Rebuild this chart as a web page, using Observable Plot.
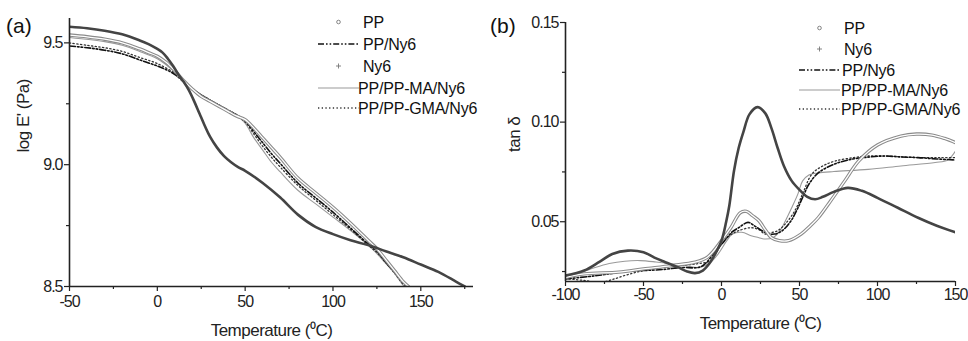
<!DOCTYPE html>
<html>
<head>
<meta charset="utf-8">
<script src="https://cdn.jsdelivr.net/npm/d3@7"></script>
<script src="https://cdn.jsdelivr.net/npm/@observablehq/plot@0.6"></script>
<style>
  body { margin: 0; background: #fff; }
  #wrap { position: relative; width: 968px; height: 341px; display: flex; font-family: "Liberation Sans", Arial, sans-serif; }
  #wrap svg [aria-label$="tick label"] text { letter-spacing: -1px; }
  #wrap svg g[aria-label="text"] text { letter-spacing: -0.5px; }
  #overlay { position: absolute; left: 0; top: 0; pointer-events: none; }
</style>
</head>
<body>
<div id="wrap"></div>
<script>
// ---------- Panel (a): log E' (Pa) vs Temperature ----------
const seriesNames = ["PP", "PP/Ny6", "Ny6", "PP/PP-MA/Ny6", "PP/PP-GMA/Ny6"];
const xTicksA = [-50, 0, 50, 100, 150];
const xMinorA = [-25, 25, 75, 125, 175];
const yTicksA = [8.5, 9.0, 9.5];
const yMinorA = [8.75, 9.25];

const ppA = [[-50,9.532],[-40,9.525],[-30,9.515],[-20,9.50],[-10,9.475],[-5,9.46],[0,9.445],[5,9.42],[10,9.385],[15,9.345],[20,9.31],[25,9.28],[30,9.26],[35,9.24],[40,9.22],[45,9.20],[50,9.185],[55,9.15],[60,9.11],[65,9.07],[70,9.03],[80,8.945],[90,8.885],[100,8.825],[110,8.76],[120,8.69],[125,8.655],[130,8.61],[135,8.565],[140,8.52],[143,8.5]];
const ppNy6A = [[-50,9.487],[-40,9.48],[-30,9.47],[-20,9.455],[-10,9.43],[0,9.405],[5,9.39],[10,9.37],[15,9.34],[20,9.31],[30,9.265],[40,9.225],[45,9.205],[50,9.18],[55,9.135],[60,9.09],[65,9.045],[70,9.005],[80,8.925],[90,8.865],[100,8.805],[110,8.74],[120,8.675],[125,8.645],[130,8.6],[135,8.56],[140,8.52],[143,8.5]];
const ny6A = [[-50,9.566],[-40,9.56],[-30,9.55],[-20,9.535],[-10,9.51],[-5,9.495],[0,9.475],[3,9.46],[6,9.435],[9,9.405],[12,9.37],[15,9.34],[18,9.305],[21,9.26],[24,9.21],[27,9.16],[30,9.115],[34,9.07],[38,9.035],[42,9.01],[46,8.99],[50,8.975],[60,8.925],[70,8.865],[80,8.795],[90,8.745],[100,8.715],[110,8.69],[120,8.67],[130,8.645],[140,8.62],[150,8.59],[160,8.56],[170,8.52],[175,8.5]];
const maA = [[-50,9.522],[-30,9.505],[-20,9.49],[-10,9.465],[0,9.435],[5,9.41],[10,9.38],[15,9.345],[20,9.31],[30,9.265],[40,9.225],[45,9.205],[50,9.17],[55,9.11],[60,9.06],[65,9.01],[70,8.97],[80,8.895],[90,8.84],[100,8.785],[110,8.73],[120,8.67],[125,8.635],[130,8.595],[135,8.555],[140,8.505],[141,8.5]];
const gmaA = [[-50,9.5],[-40,9.49],[-30,9.48],[-20,9.465],[-10,9.44],[0,9.415],[10,9.375],[15,9.345],[20,9.31],[30,9.265],[40,9.225],[45,9.2],[50,9.175],[55,9.125],[60,9.075],[65,9.03],[70,8.99],[80,8.915],[90,8.855],[100,8.795],[110,8.735],[120,8.67],[125,8.64],[130,8.6],[135,8.555],[140,8.51],[142,8.5]];

// ---------- Panel (b): tan δ vs Temperature ----------
const xTicksB = [-100, -50, 0, 50, 100, 150];
const xMinorB = [-75, -25, 25, 75, 125];
const yTicksB = [0.05, 0.10, 0.15];
const yMinorB = [0.025, 0.075, 0.125];

const ppB = [[-100,0.022],[-88,0.0238],[-66,0.0247],[-50,0.0263],[-32,0.028],[-17,0.0297],[-9,0.0322],[0,0.0405],[6,0.047],[12,0.0545],[16,0.0552],[20,0.053],[24,0.0505],[28,0.046],[32,0.042],[37,0.0405],[43,0.0405],[51,0.0438],[57,0.048],[62,0.052],[70,0.0605],[79,0.0705],[88,0.0805],[100,0.0885],[115,0.093],[125,0.094],[135,0.0935],[143,0.0918],[150,0.0897]];
const ny6B = [[-100,0.023],[-88,0.0255],[-78,0.030],[-70,0.0338],[-60,0.0355],[-50,0.0347],[-43,0.032],[-36,0.0297],[-28,0.0272],[-22,0.025],[-17,0.0242],[-12,0.0255],[-8,0.0288],[-4,0.034],[0,0.0405],[3,0.05],[5,0.058],[8,0.0755],[11,0.087],[14,0.095],[18,0.104],[23,0.1075],[28,0.1045],[32,0.097],[36,0.087],[40,0.078],[45,0.0705],[50,0.066],[55,0.0625],[60,0.0613],[65,0.0625],[72,0.065],[81,0.067],[90,0.0655],[100,0.062],[113,0.057],[126,0.052],[138,0.048],[150,0.0447]];
const ppNy6B = [[-100,0.0213],[-85,0.0225],[-75,0.0235],[-62,0.025],[-50,0.0255],[-38,0.026],[-26,0.027],[-13,0.0275],[-5,0.034],[2,0.0405],[7,0.045],[11,0.047],[17,0.0497],[21,0.048],[26,0.0455],[30,0.044],[34,0.0438],[38,0.045],[41,0.047],[45,0.051],[49,0.057],[53,0.064],[56,0.0688],[62,0.0745],[72,0.0788],[83,0.0813],[95,0.0825],[105,0.083],[115,0.0825],[126,0.0822],[138,0.0815],[150,0.081]];
const maB = [[-100,0.022],[-90,0.0245],[-81,0.027],[-72,0.029],[-62,0.0302],[-52,0.0305],[-42,0.0298],[-32,0.0288],[-22,0.0278],[-15,0.027],[-8,0.029],[-2,0.034],[3,0.04],[7,0.0438],[13,0.0447],[19,0.043],[24,0.042],[28,0.0413],[33,0.042],[37,0.045],[41,0.0505],[45,0.057],[49,0.064],[52,0.0705],[56,0.0735],[62,0.0745],[72,0.0752],[94,0.0763],[115,0.078],[137,0.0797],[145,0.081],[150,0.0855]];
const gmaB = [[-100,0.0215],[-88,0.0205],[-78,0.0195],[-70,0.021],[-60,0.0235],[-50,0.0255],[-38,0.027],[-26,0.028],[-15,0.029],[-7,0.0305],[1,0.04],[6,0.0435],[11,0.0455],[19,0.047],[24,0.046],[28,0.0438],[32,0.0445],[36,0.0455],[41,0.049],[47,0.0555],[52,0.064],[58,0.074],[65,0.078],[73,0.0805],[85,0.0822],[94,0.083],[110,0.0828],[126,0.0822],[140,0.0822],[150,0.0822]];

const FONT = "Liberation Sans, Arial, sans-serif";
const INK = "#222";

function seriesMarks(pp, ppNy6, ny6, ma, gma, clip) {
  const o = {x: d => d[0], y: d => d[1], curve: "catmull-rom", clip};
  return [
    Plot.line(ma, {...o, stroke: "#9a9a9a", strokeWidth: 1.1}),
    Plot.line(gma, {...o, stroke: "#333", strokeWidth: 1.3, strokeDasharray: "1.3,2.4"}),
    Plot.line(ppNy6, {...o, stroke: "#111", strokeWidth: 1.6, strokeDasharray: "6,2,1.6,2,1.6,2"}),
    Plot.line(pp, {...o, stroke: "#8a8a8a", strokeWidth: 3.4}),
    Plot.line(pp, {...o, stroke: "#fff", strokeWidth: 1.3}),
    Plot.line(ny6, {...o, stroke: "#444", strokeWidth: 2.6}),
  ];
}

function axesMarks(xT, xM, yT, yM, x0, y0, fmtY, ylabel, ylabelDx, xlabelDy, xPad) {
  return [
    Plot.axisX({ticks: xT, tickSize: 5, tickPadding: xPad, label: null, fontSize: 16, tickFormat: d => `${d}`, stroke: INK, color: INK, strokeWidth: 1.2}),
    Plot.axisX({ticks: xM, tickSize: 3, tickFormat: () => "", label: null, stroke: INK, strokeWidth: 1.2}),
    Plot.axisY({ticks: yT, tickSize: 5, tickPadding: 2, label: null, fontSize: 16, tickFormat: fmtY, stroke: INK, color: INK, strokeWidth: 1.2}),
    Plot.axisY({ticks: yM, tickSize: 3, tickFormat: () => "", label: null, stroke: INK, strokeWidth: 1.2}),
    Plot.ruleX([x0], {stroke: INK, strokeWidth: 1.6}),
    Plot.ruleY([y0], {stroke: INK, strokeWidth: 1.6}),
    Plot.text(["Temperature (⁰C)"], {frameAnchor: "bottom", dy: xlabelDy, fontSize: 17, fill: INK}),
    Plot.text([ylabel], {frameAnchor: "left", rotate: -90, dx: ylabelDx, fontSize: 17, fill: INK}),
  ];
}

const plotA = Plot.plot({
  width: 484, height: 341,
  marginLeft: 69, marginRight: 11, marginTop: 18, marginBottom: 55,
  style: {fontFamily: FONT, background: "transparent", overflow: "visible"},
  x: {domain: [-50, 180]},
  y: {domain: [8.5, 9.6]},
  marks: [
    ...seriesMarks(ppA, ppNy6A, ny6A, maA, gmaA, true),
    ...axesMarks(xTicksA, xMinorA, yTicksA, yMinorA, -50, 8.5, d3.format(".1f"), "log E' (Pa)", -46, 49, 4)
  ]
});

const plotB = Plot.plot({
  width: 484, height: 341,
  marginLeft: 81, marginRight: 13, marginTop: 22, marginBottom: 60,
  style: {fontFamily: FONT, background: "transparent", overflow: "visible"},
  x: {domain: [-100, 150]},
  y: {domain: [0.02, 0.15]},
  marks: [
    ...seriesMarks(ppB, ppNy6B, ny6B, maB, gmaB, true),
    ...axesMarks(xTicksB, xMinorB, yTicksB, yMinorB, -100, 0.02, d3.format(".2f"), "tan δ", -51, 47, 2)
  ]
});

const wrap = document.getElementById("wrap");
wrap.appendChild(plotA);
wrap.appendChild(plotB);

// ---------- Panel labels and legends (overlay) ----------
const legendOrderA = ["PP", "PP/Ny6", "Ny6", "PP/PP-MA/Ny6", "PP/PP-GMA/Ny6"];
const legendOrderB = ["PP", "Ny6", "PP/Ny6", "PP/PP-MA/Ny6", "PP/PP-GMA/Ny6"];

const svg = d3.select(wrap).append("svg")
  .attr("id", "overlay").attr("width", 968).attr("height", 341)
  .style("font-family", FONT);

svg.append("text").attr("x", 6).attr("y", 33).attr("font-size", 21).attr("fill", "#111").text("(a)");
svg.append("text").attr("x", 490).attr("y", 33).attr("font-size", 21).attr("fill", "#111").text("(b)");

function drawSymbol(g, name, x0, x1, y) {
  const xm = (x0 + x1) / 2;
  if (name === "PP") {
    g.append("circle").attr("cx", xm).attr("cy", y).attr("r", 1.8).attr("fill", "none").attr("stroke", "#777").attr("stroke-width", 0.9);
  } else if (name === "Ny6") {
    g.append("path").attr("d", `M${xm-2.5},${y}H${xm+2.5}M${xm},${y-2.5}V${y+2.5}`).attr("stroke", "#777").attr("stroke-width", 0.9);
  } else {
    const st = {
      "PP/Ny6": ["#111", 1.6, "6,2,1.6,2,1.6,2"],
      "PP/PP-MA/Ny6": ["#9a9a9a", 1.1, null],
      "PP/PP-GMA/Ny6": ["#333", 1.3, "1.3,2.4"]
    }[name];
    const l = g.append("line").attr("x1", x0).attr("x2", x1).attr("y1", y).attr("y2", y)
      .attr("stroke", st[0]).attr("stroke-width", st[1]);
    if (st[2]) l.attr("stroke-dasharray", st[2]);
  }
}

function legend(order, ys, x0, x1, txs) {
  const g = svg.append("g");
  order.forEach((name, i) => {
    drawSymbol(g, name, x0, x1, ys[i]);
    g.append("text").attr("x", txs[i]).attr("y", ys[i]).attr("dy", "0.36em")
      .attr("font-size", 16).attr("letter-spacing", "-0.2px").attr("fill", "#111").text(name);
  });
}

legend(legendOrderA, [22, 44, 66, 88, 108], 318, 359, [363, 363, 363, 358, 358]);
legend(legendOrderB, [28, 49, 70, 90, 109], 799, 840, [844, 844, 842, 841, 841]);
</script>
</body>
</html>
